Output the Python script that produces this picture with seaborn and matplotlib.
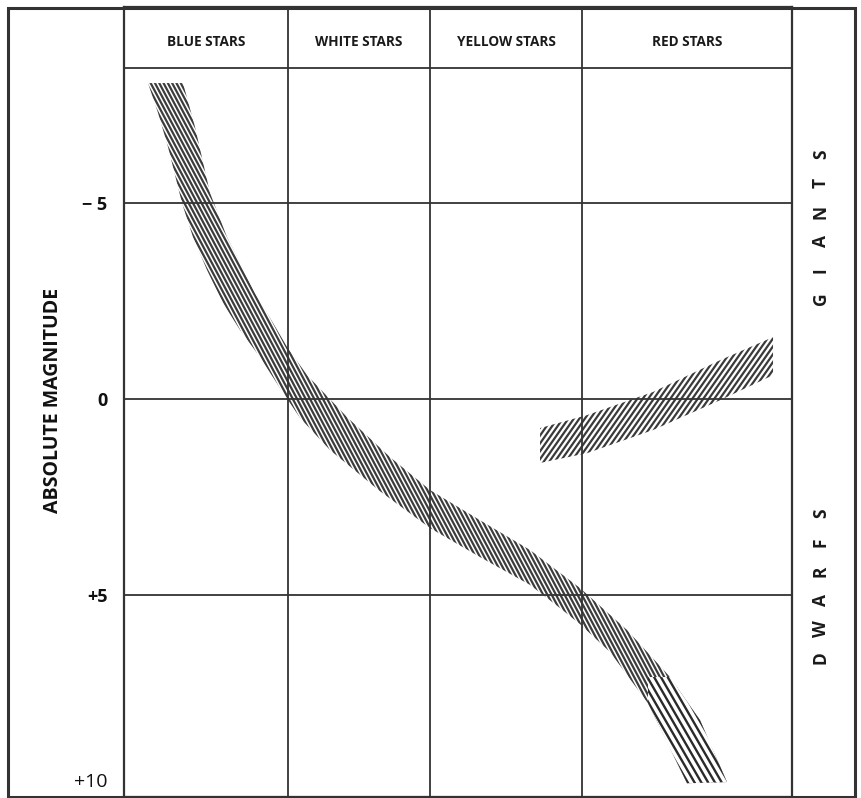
import numpy as np
import matplotlib
matplotlib.use("Agg")
import matplotlib.pyplot as plt
import seaborn as sns
from matplotlib.patches import Polygon, PathPatch, Rectangle
from matplotlib.collections import LineCollection
from matplotlib.path import Path
from matplotlib.transforms import Bbox, IdentityTransform

# ---- data -----------------------------------------------------------------
# spectral columns (horizontal position in percent of the diagram width)
columns = ["BLUE STARS", "WHITE STARS", "YELLOW STARS", "RED STARS"]
column_edges = [0.0, 24.55, 45.81, 68.56, 100.0]

mag_ticks = [-5, 0, 5, 10]
mag_labels = ["\u2212 5", "0", "+5", "+10"]
side_labels = ["GIANTS", "DWARFS"]
side_centers = [-4.40, 4.76]          # magnitude at the middle of each word

# main sequence band: blue/lower edge and red/upper edge
ms_lower_x = [3.59, 5.09, 6.59, 8.68, 10.33, 12.43, 14.82, 17.37, 20.36,
              23.35, 26.35, 30.84, 38.32, 45.81, 53.29, 60.78, 65.27, 68.26,
              72.75, 78.44, 84.28]
ms_lower_mag = [-8.06, -7.30, -6.43, -5.00, -4.13, -3.29, -2.45, -1.76, -1.07,
                -0.28, 0.48, 1.30, 2.35, 3.29, 4.03, 4.74, 5.33, 5.74,
                6.45, 7.76, 9.80]
ms_upper_x = [8.83, 10.63, 12.87, 15.42, 17.37, 19.61, 22.31, 24.40, 27.40,
              33.38, 39.82, 45.81, 53.29, 60.78, 68.26, 75.30, 81.74, 86.23,
              90.27]
ms_upper_mag = [-8.06, -6.94, -5.26, -4.13, -3.47, -2.70, -1.94, -1.33, -0.61,
                0.46, 1.48, 2.32, 3.09, 3.85, 4.82, 5.89, 7.09, 8.19,
                9.77]
# faint red dwarfs at the end of the main sequence
faint_x_min = 78.44
faint_mag_min = 7.09

# giant branch
gb_x = [62.28, 69.31, 79.19, 89.22, 97.16]
gb_bright = [0.74, 0.41, -0.18, -0.99, -1.58]
gb_faint = [1.63, 1.38, 0.79, 0.03, -0.61]

MAG_TOP, MAG_HEAD, MAG_BOTTOM = -10.0, -8.44, 10.15

# ---- styling --------------------------------------------------------------
sns.set_theme(style="white")
plt.rcParams["font.family"] = ["Open Sans", "DejaVu Sans"]
LINE = "#333333"
W, H = 862, 798

fig = plt.figure(figsize=(W / 100, H / 100), dpi=100)
ax = fig.add_axes([124 / W, 1 / H, (792 - 124) / W, (797 - 7) / H])
ax.set_xlim(column_edges[0], column_edges[-1])
ax.set_ylim(MAG_BOTTOM, MAG_TOP)
ax.set_xticks([])
for s in ax.spines.values():
    s.set_color(LINE)
    s.set_linewidth(1.6)
    s.set_visible(True)

# grid of the diagram
for m in [MAG_HEAD] + mag_ticks[:-1]:
    ax.axhline(m, color=LINE, lw=1.3, zorder=3)
for e in column_edges[1:-1]:
    ax.axvline(e, color=LINE, lw=1.3, zorder=3)

# column headings
head_mid = -9.11
for i, name in enumerate(columns):
    ax.text((column_edges[i] + column_edges[i + 1]) / 2, head_mid, name,
            ha="center", va="center", fontsize=9.8, fontweight="bold",
            color="#1a1a1a")

# magnitude scale
ax.set_yticks(mag_ticks, mag_labels)
ax.tick_params(axis="y", length=0, pad=12, labelsize=13, labelcolor="#111111")
for t in ax.get_yticklabels():
    t.set_fontweight("bold")
last = ax.get_yticklabels()[-1]
last.set_fontweight("normal")
last.set_fontsize(14)
last.set_verticalalignment("bottom")

fig.text(53 / W, 1 - 400 / H, "ABSOLUTE MAGNITUDE", rotation=90,
         ha="center", va="center", fontsize=14, fontweight="bold",
         color="#111111")


def hatch(patch, angle, spacing, lw, color, z):
    """Fill a patch with parallel strokes drawn in pixel space."""
    t = np.tan(np.radians(abs(angle)))
    sign = 1 if angle > 0 else -1
    ext = H / t
    starts = np.arange(-ext - 20, W + ext + 20, spacing)
    segs = [[(x0, -10), (x0 + sign * (H + 20) / t, H + 10)] for x0 in starts]
    lc = LineCollection(segs, colors=color, linewidths=lw,
                        transform=IdentityTransform(), zorder=z)
    ax.add_collection(lc)
    lc.set_clip_path(patch)
    return lc


# main sequence
ms_verts = np.column_stack([
    np.r_[ms_lower_x, ms_upper_x[::-1]],
    np.r_[ms_lower_mag, ms_upper_mag[::-1]],
])
ms_patch = Polygon(ms_verts, closed=True, facecolor="none", edgecolor="none")
ax.add_patch(ms_patch)
hatch(ms_patch, -62, 4.3, 1.6, "#3c3c3c", 2)

# faint end drawn with coarser strokes
faint_path = Path(ms_verts, closed=True).clip_to_bbox(
    Bbox.from_extents(faint_x_min, faint_mag_min, 100, MAG_BOTTOM))
faint_patch = PathPatch(faint_path, facecolor="white", edgecolor="none",
                        zorder=2.5)
ax.add_patch(faint_patch)
hatch(faint_patch, -60, 6.8, 1.7, "#2a2a2a", 2.6)

# giant branch
gb_verts = np.column_stack([
    np.r_[gb_x, gb_x[::-1]],
    np.r_[gb_bright, gb_faint[::-1]],
])
gb_patch = Polygon(gb_verts, closed=True, facecolor="none", edgecolor="none")
ax.add_patch(gb_patch)
hatch(gb_patch, 55, 5.5, 1.6, "#3a3a3a", 2)

# GIANTS / DWARFS in the right-hand strip, letter-spaced
pitch = 29.0 / 39.2
for word, mid in zip(side_labels, side_centers):
    n = len(word)
    for k, ch in enumerate(word):
        m = mid + (n - 1) / 2 * pitch - k * pitch
        ypix = 399 + m * 39.2
        fig.text(821 / W, 1 - ypix / H, ch, rotation=90, ha="center",
                 va="center", fontsize=12.5, fontweight="bold",
                 color="#1a1a1a")

# outer frame
fig.add_artist(Rectangle((8 / W, 1.2 / H), (855 - 8) / W, (797 - 8) / H,
                         transform=fig.transFigure, fill=False, lw=2.2,
                         ec=LINE))

fig.savefig("out.png", dpi=100, facecolor="white")
